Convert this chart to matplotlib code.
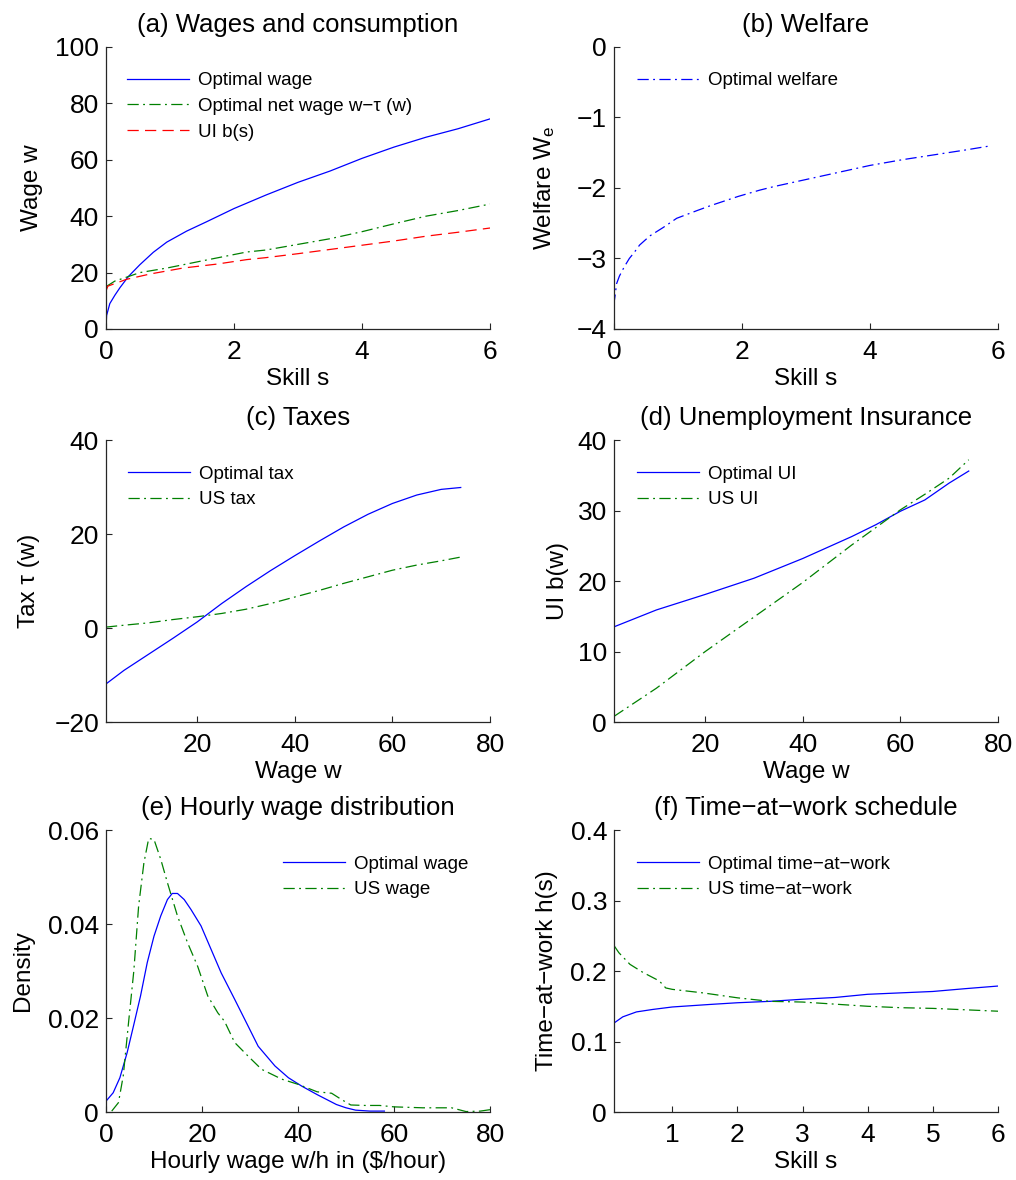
import matplotlib
matplotlib.use("Agg")
import matplotlib.pyplot as plt

plt.rcParams['font.family'] = ['Liberation Sans', 'DejaVu Sans']
plt.rcParams['mathtext.default'] = 'regular'

# ---------------- data ----------------
# (a) Wages and consumption
skill_a = [0, 0.01, 0.06, 0.14, 0.22, 0.35, 0.53, 0.74, 0.95, 1.26, 1.57, 2, 2.5, 3, 3.5, 4, 4.5,
           5, 5.5, 6]
opt_wage_a = [0, 4.8, 9, 12, 14.7, 18.6, 22.8, 27.2, 30.8, 34.7, 38, 42.7, 47.5, 52, 56, 60.5, 64.5,
              68, 71, 74.5]
skill_net = [0, 0.14, 0.3, 0.53, 0.95, 1.47, 2.2, 2.5, 3, 3.5, 4, 4.5, 5, 5.5, 6]
net_wage_a = [15, 17, 18.2, 20, 21.6, 24, 27.3, 28, 30, 32, 34.5, 37.3, 40, 42, 44.3]
skill_ui = [0, 0.03, 0.32, 0.69, 1.2, 1.73, 2.2, 2.5, 3, 3.5, 4, 4.5, 5, 5.5, 6]
ui_a = [13.5, 15.2, 17.6, 19.5, 21.6, 23, 24.6, 25.3, 26.7, 28.2, 29.7, 31.2, 32.9, 34.3, 35.8]

# (b) Welfare
skill_b = [0, 0.001, 0.02, 0.04, 0.085, 0.16, 0.24, 0.32, 0.4, 0.56, 0.77, 0.98, 1.3, 1.51, 1.94,
           2.28, 2.5, 3, 3.5, 4, 4.5, 5, 5.5, 5.9]
welfare_b = [-3.98, -3.63, -3.51, -3.36, -3.25, -3.12, -3.0, -2.91, -2.81, -2.68, -2.56, -2.43,
             -2.32, -2.25, -2.12, -2.03, -1.98, -1.88, -1.78, -1.68, -1.60, -1.53, -1.46, -1.40]

# (c) Taxes
wage_c = [1.3, 5, 10, 15, 20, 25, 30, 35, 40, 45, 50, 55, 60, 65, 70, 74]
opt_tax_c = [-11.9, -9, -5.6, -2.2, 1.3, 5.2, 8.8, 12.2, 15.4, 18.5, 21.5, 24.2, 26.5, 28.3, 29.5, 29.9]
us_tax_c = [0.2, 0.6, 1.1, 1.8, 2.4, 3.1, 4.0, 5.2, 6.6, 8.0, 9.5, 10.9, 12.3, 13.4, 14.3, 15.1]

# (d) Unemployment insurance
wage_d = [1.3, 10, 20, 30, 40, 50, 55, 60, 65, 70, 74]
opt_ui_d = [13.5, 15.9, 18.1, 20.4, 23.2, 26.3, 28.0, 29.9, 31.5, 33.9, 35.6]
us_ui_d = [0.8, 4.8, 10.0, 14.9, 19.8, 25.1, 27.6, 30.1, 32.3, 34.6, 37.2]

# (e) Hourly wage distribution
hw_opt = [0, 1.5, 2.9, 4.4, 5.8, 7.2, 8.6, 10, 11.4, 12.8, 13.8, 14.9, 16.3, 17.7, 19.8, 21.9, 24,
          26.8, 29.6, 31.7, 35.2, 38, 40.8, 44, 48, 50, 52, 55, 58]
dens_opt = [0.0023, 0.0041, 0.0073, 0.0126, 0.0186, 0.0247, 0.0318, 0.0374, 0.0417, 0.0452,
            0.0465, 0.0465, 0.0452, 0.0431, 0.0396, 0.0346, 0.0296, 0.0240, 0.0183, 0.0140,
            0.0098, 0.0073, 0.0055, 0.0037, 0.0016, 0.0009, 0.0004, 0.0002, 0.0002]
hw_us = [1.2, 2.6, 3.6, 4.7, 5.8, 6.8, 7.9, 8.9, 10, 11.4, 12.8, 14.9, 17, 19.1, 21.2, 23.3, 24.7,
         26.8, 29.6, 32.4, 36.6, 40, 44, 47, 49, 51, 54, 57, 60, 66, 72, 75, 78, 80]
dens_us = [0.0002, 0.002, 0.0077, 0.019, 0.030, 0.0438, 0.053, 0.0582, 0.058, 0.0538, 0.0488,
           0.0417, 0.036, 0.031, 0.0247, 0.0211, 0.0193, 0.0148, 0.0119, 0.0091, 0.0070, 0.0059,
           0.0043, 0.004, 0.0027, 0.0015, 0.0014, 0.0014, 0.0011, 0.0009, 0.0009, 0.0001, 0.0002,
           0.0005]

# (f) Time-at-work schedule
skill_f_opt = [0.11, 0.24, 0.45, 0.7, 1, 1.58, 2, 2.5, 3, 3.5, 4, 4.5, 5, 5.5, 6]
h_opt = [0.1265, 0.135, 0.142, 0.1455, 0.149, 0.1526, 0.155, 0.157, 0.160, 0.1625, 0.167, 0.169,
         0.171, 0.175, 0.1787]
skill_f_us = [0.11, 0.18, 0.35, 0.55, 0.8, 0.9, 1, 1.47, 2, 2.5, 3, 3.5, 4, 4.5, 5, 5.5, 6]
h_us = [0.2355, 0.226, 0.2095, 0.198, 0.186, 0.176, 0.174, 0.169, 0.162, 0.157, 0.156, 0.153,
        0.150, 0.148, 0.147, 0.145, 0.143]

# ---------------- styling ----------------
BLUE = '#0000ff'
GREEN = '#008000'
RED = '#ff0000'
DASHDOT = (0, (9, 3.5, 1.5, 3.5))
DASHED = (0, (9, 5))
LW = 0.9

fig = plt.figure(figsize=(10.16, 11.8), dpi=100)

left_x, right_x, w = 0.1043, 0.6043, 0.378
rows_y = [0.7212, 0.3881, 0.0576]
h = 0.239


def make_ax(x0, y0):
    ax = fig.add_axes([x0, y0, w, h])
    ax.spines['top'].set_visible(False)
    ax.spines['right'].set_visible(False)
    for s in ('left', 'bottom'):
        ax.spines[s].set_color('#262626')
        ax.spines[s].set_linewidth(0.9)
    ax.tick_params(direction='in', length=4, width=0.8, labelsize=19, color='#262626',
                   top=False, right=False)
    ax.tick_params(axis='x', pad=8)
    ax.tick_params(axis='y', pad=5)
    return ax


def legend(ax, loc_xy, loc='upper left'):
    ax.legend(loc=loc, bbox_to_anchor=loc_xy, frameon=False, fontsize=13.5,
              handlelength=3.3, handletextpad=0.5, labelspacing=0.45,
              borderaxespad=0, borderpad=0)


TITLE_KW = dict(fontsize=18.5, pad=11)
LABEL_FS = 17.5
XLP = 3

# (a)
ax = make_ax(left_x, rows_y[0])
ax.plot(skill_a, opt_wage_a, color=BLUE, lw=LW, label='Optimal wage')
ax.plot(skill_net, net_wage_a, color=GREEN, lw=LW, linestyle=DASHDOT, label='Optimal net wage w\u2212\u03c4 (w)')
ax.plot(skill_ui, ui_a, color=RED, lw=LW, linestyle=DASHED, label='UI b(s)')
ax.set_xlim(0, 6)
ax.set_ylim(0, 100)
ax.set_xticks([0, 2, 4, 6])
ax.set_yticks([0, 20, 40, 60, 80, 100])
ax.set_title('(a) Wages and consumption', **TITLE_KW)
ax.set_xlabel('Skill s', fontsize=LABEL_FS, labelpad=XLP)
ax.set_ylabel('Wage w', fontsize=LABEL_FS, labelpad=9)
legend(ax, (0.055, 0.91))

# (b)
ax = make_ax(right_x, rows_y[0])
ax.plot(skill_b, welfare_b, color=BLUE, lw=LW, linestyle=DASHDOT, label='Optimal welfare')
ax.set_xlim(0, 6)
ax.set_ylim(-4, 0)
ax.set_xticks([0, 2, 4, 6])
ax.set_yticks([-4, -3, -2, -1, 0])
ax.set_title('(b) Welfare', **TITLE_KW)
ax.set_xlabel('Skill s', fontsize=LABEL_FS, labelpad=XLP)
ax.set_ylabel('Welfare W$_e$', fontsize=LABEL_FS, labelpad=14)
legend(ax, (0.06, 0.91))

# (c)
ax = make_ax(left_x, rows_y[1])
ax.plot(wage_c, opt_tax_c, color=BLUE, lw=LW, label='Optimal tax')
ax.plot(wage_c, us_tax_c, color=GREEN, lw=LW, linestyle=DASHDOT, label='US tax')
ax.set_xlim(1.3, 80)
ax.set_ylim(-20, 40)
ax.set_xticks([20, 40, 60, 80])
ax.set_yticks([-20, 0, 20, 40])
ax.set_title('(c) Taxes', **TITLE_KW)
ax.set_xlabel('Wage w', fontsize=LABEL_FS, labelpad=XLP)
ax.set_ylabel('Tax \u03c4 (w)', fontsize=LABEL_FS, labelpad=10)
legend(ax, (0.057, 0.91))

# (d)
ax = make_ax(right_x, rows_y[1])
ax.plot(wage_d, opt_ui_d, color=BLUE, lw=LW, label='Optimal UI')
ax.plot(wage_d, us_ui_d, color=GREEN, lw=LW, linestyle=DASHDOT, label='US UI')
ax.set_xlim(1.3, 80)
ax.set_ylim(0, 40)
ax.set_xticks([20, 40, 60, 80])
ax.set_yticks([0, 10, 20, 30, 40])
ax.set_title('(d) Unemployment Insurance', **TITLE_KW)
ax.set_xlabel('Wage w', fontsize=LABEL_FS, labelpad=XLP)
ax.set_ylabel('UI b(w)', fontsize=LABEL_FS, labelpad=6)
legend(ax, (0.06, 0.91))

# (e)
ax = make_ax(left_x, rows_y[2])
ax.plot(hw_opt, dens_opt, color=BLUE, lw=LW, label='Optimal wage')
ax.plot(hw_us, dens_us, color=GREEN, lw=LW, linestyle=DASHDOT, label='US wage')
ax.set_xlim(0, 80)
ax.set_ylim(0, 0.06)
ax.set_xticks([0, 20, 40, 60, 80])
ax.set_yticks([0, 0.02, 0.04, 0.06])
ax.set_yticklabels(['0', '0.02', '0.04', '0.06'])
ax.set_title('(e) Hourly wage distribution', **TITLE_KW)
ax.set_xlabel('Hourly wage w/h in ($/hour)', fontsize=LABEL_FS, labelpad=XLP)
ax.set_ylabel('Density', fontsize=LABEL_FS, labelpad=10)
legend(ax, (0.461, 0.91))

# (f)
ax = make_ax(right_x, rows_y[2])
ax.plot(skill_f_opt, h_opt, color=BLUE, lw=LW, label='Optimal time\u2212at\u2212work')
ax.plot(skill_f_us, h_us, color=GREEN, lw=LW, linestyle=DASHDOT, label='US time\u2212at\u2212work')
ax.set_xlim(0.105, 6)
ax.set_ylim(0, 0.4)
ax.set_xticks([1, 2, 3, 4, 5, 6])
ax.set_yticks([0, 0.1, 0.2, 0.3, 0.4])
ax.set_yticklabels(['0', '0.1', '0.2', '0.3', '0.4'])
ax.set_title('(f) Time\u2212at\u2212work schedule', **TITLE_KW)
ax.set_xlabel('Skill s', fontsize=LABEL_FS, labelpad=XLP)
ax.set_ylabel('Time\u2212at\u2212work h(s)', fontsize=LABEL_FS, labelpad=9)
legend(ax, (0.06, 0.91))

fig.savefig('out.png', dpi=100)
